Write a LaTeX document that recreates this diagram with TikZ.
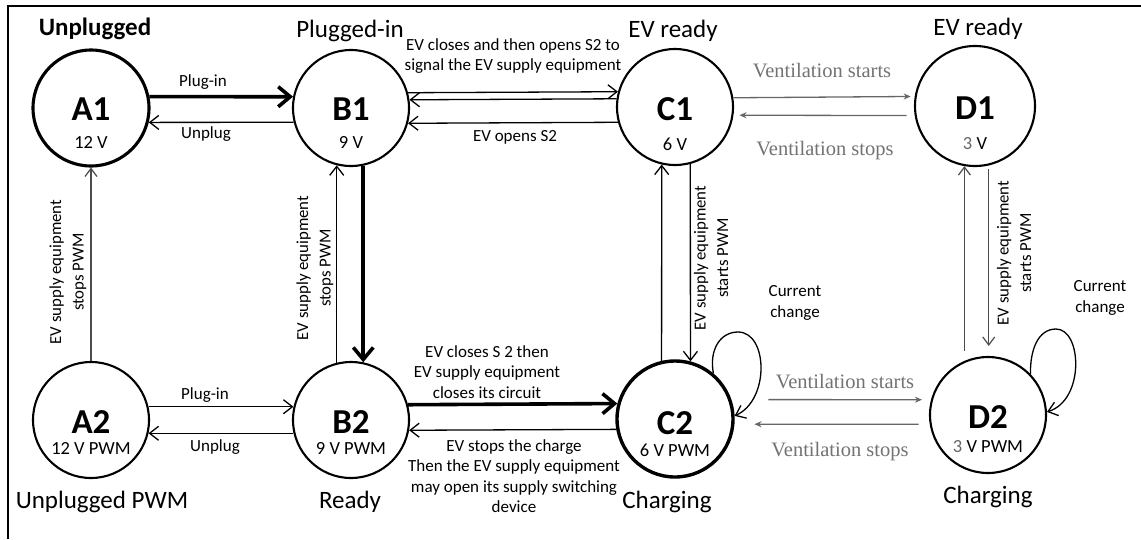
\documentclass[tikz,border=0pt]{standalone}
\usepackage{fontspec}
\setmainfont{Carlito}
\newfontfamily\ventfont{Liberation Serif}
\usetikzlibrary{arrows.meta,calc}
\begin{document}
\begin{tikzpicture}[x=1pt,y=-1pt,
  state/.style={circle,draw,line width=2.1pt,minimum size=116pt,inner sep=0pt},
  bold state/.style={state,line width=3.1pt},
  big/.style={font=\fontsize{35}{36}\selectfont\bfseries,inner sep=0pt},
  volt/.style={font=\fontsize{18.5}{20}\selectfont,inner sep=0pt},
  ttl/.style={font=\fontsize{25}{28}\selectfont,inner sep=0pt},
  lbl/.style={font=\fontsize{17}{20.5}\selectfont,align=center,inner sep=0pt},
  rlbl/.style={lbl,rotate=90,font=\fontsize{16.8}{22.5}\selectfont},
  vent/.style={font=\ventfont\fontsize{20.5}{22}\selectfont,text=black!55,inner sep=0pt},
  tr/.style={line width=1.3pt,-{Straight Barb[length=9pt,width=14pt]}},
  thk/.style={line width=3.6pt,-{Straight Barb[length=12pt,width=20pt]}},
  gr/.style={line width=1.3pt,draw=black!60,-{Stealth[length=7pt,width=6pt]}},
  thin/.style={line width=1.2pt,draw=black!70,-{Straight Barb[length=8pt,width=12pt]}}]
\useasboundingbox (0,0) rectangle (1141,539);
\fill[white] (0,0) rectangle (1141,539);
\draw[line width=1.2pt] (8,539) -- (8,6) -- (1141,6);

% states
\node[bold state] (A1) at (91,108) {};
\node[state] (B1) at (351,108) {};
\node[state] (C1) at (675,107) {};
\node[state,minimum size=120pt] (D1) at (975,106) {};
\node[state] (A2) at (91,420) {};
\node[state] (B2) at (351,420) {};
\node[bold state,line width=3.4pt] (C2) at (675,419) {};
\node[state] (D2) at (988,415) {};

\node[big] (A1n) at ($(A1)+(0,1)$) {A1};
\node[volt] (A1v) at ($(A1)+(0,34)$) {12 V};
\node[big] (B1n) at ($(B1)+(0,1)$) {B1};
\node[volt] (B1v) at ($(B1)+(0,34)$) {9 V};
\node[big] (C1n) at ($(C1)+(0,2)$) {C1};
\node[volt] (C1v) at ($(C1)+(0,37)$) {6 V};
\node[big] (D1n) at ($(D1)+(0,2)$) {D1};
\node[volt] (D1v) at ($(D1)+(0,38)$) {{\color{black!60}3} V};
\node[big] (A2n) at ($(A2)+(0,2)$) {A2};
\node[volt] (A2v) at ($(A2)+(0,28)$) {12 V PWM};
\node[big] (B2n) at ($(B2)+(0,2)$) {B2};
\node[volt] (B2v) at ($(B2)+(0,28)$) {9 V PWM};
\node[big] (C2n) at ($(C2)+(0,4)$) {C2};
\node[volt] (C2v) at ($(C2)+(0,31)$) {6 V PWM};
\node[big] (D2n) at ($(D2)+(0,2)$) {D2};
\node[volt] (D2v) at ($(D2)+(0,32)$) {{\color{black!60}3} V PWM};

% titles
\node[ttl,font=\fontsize{25}{28}\selectfont\bfseries] (tA1) at (95,29) {Unplugged};
\node[ttl] (tB1) at (350,31) {Plugged-in};
\node[ttl] (tC1) at (673,31) {EV ready};
\node[ttl] (tD1) at (978,29) {EV ready};
\node[ttl] (tA2) at (102,502) {Unplugged PWM};
\node[ttl] (tB2) at (350,502) {Ready};
\node[ttl] (tC2) at (667,502) {Charging};
\node[ttl] (tD2) at (988,497) {Charging};

% row 1 horizontal
\draw[thk] (A1.11) -- (B1.169);
\draw[tr] (B1.194) -- (A1.-14);
\node[lbl] (l1) at (203,82) {Plug-in};
\node[lbl] (l2) at (206,134) {Unplug};
\draw[tr] (B1.15) -- (C1.165);
\draw[tr] (C1.172) -- (B1.8);
\draw[tr] (C1.195) -- (B1.-15);
\node[lbl] (l3) at (513,56) {EV closes and then opens S2 to\\signal the EV supply equipment};
\node[lbl] (l4) at (515,137) {EV opens S2};
\draw[gr,shorten >=4pt] (C1.9) -- (D1.171);
\draw[gr,shorten <=8pt,shorten >=6pt] (D1.189) -- (C1.-8);
\node[vent] (v1) at (822,71) {Ventilation starts};
\node[vent] (v2) at (825,151) {Ventilation stops};

% row 2 horizontal
\draw[tr] (A2.13) -- (B2.167);
\draw[tr] (B2.193) -- (A2.-13);
\node[lbl] (l5) at (205,395) {Plug-in};
\node[lbl] (l6) at (215,447) {Unplug};
\draw[thk] (B2.15) -- (C2.165);
\draw[tr] (C2.190) -- (B2.-10);
\node[lbl] (l7) at (487,372) {EV closes S 2 then\\EV supply equipment\\closes its circuit};
\node[lbl] (l8) at (514,476) {EV stops the charge\\Then the EV supply equipment\\may open its supply switching\\device};
\draw[gr,shorten <=37pt,shorten >=9pt] (C2.19) -- (D2.165);
\draw[gr,shorten <=11pt,shorten >=20pt] (D2.189) -- (C2.-5);
\node[vent] (v3) at (845,382) {Ventilation starts};
\node[vent] (v4) at (840,452) {Ventilation stops};

% verticals
\draw[thin] (A2.north) -- (A1.south);
\node[rlbl] (l9) at (68,272) {EV supply equipment\\stops PWM};
\draw[tr] (B2.104) -- (B1.256);
\draw[thk] (B1.282) -- (B2.78);
\node[rlbl] (l10) at (315,268) {EV supply equipment\\stops PWM};
\draw[tr] (C2.103) -- (C1.257);
\draw[tr] (C1.285) -- (C2.75);
\node[rlbl] (l11) at (711,258) {EV supply equipment\\starts PWM};
\draw[thin,shorten <=5pt] (D1.260 |- D2.north) -- (D1.260);
\draw[thin,shorten <=4pt,shorten >=10pt] (D1.283) -- (D1.283 |- D2.north);
\node[rlbl] (l12) at (1014,253) {EV supply equipment\\starts PWM};

% self loops
\draw[tr] (C2.50) .. controls (709,350) and (720,332) .. (738,332) .. controls (768,332) and (770,400) .. (C2.3);
\node[lbl] (l13) at (795,303) {Current\\change};
\draw[tr] (D2.44) .. controls (1030,350) and (1038,329) .. (1056,329) .. controls (1082,329) and (1085,400) .. (D2.3);
\node[lbl] (l14) at (1100,298) {Current\\change};
\end{tikzpicture}
\end{document}
